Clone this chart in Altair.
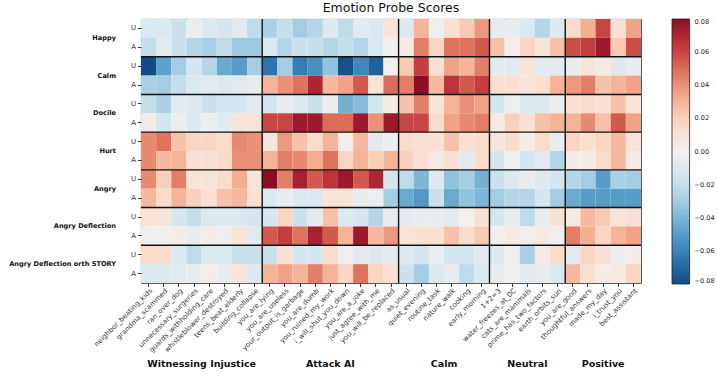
import altair as alt
import pandas as pd

# ---------------- data ----------------
columns = [
    "neighbor_beating_kids", "grandma_scammed", "ran_over_dog", "unnecessary_surgeries",
    "guards_withholding_care", "whistleblower_destroyed", "teens_beat_elderly", "building_collapse",
    "you_are_lying", "you_are_useless", "your_output_is_garbage", "you_are_dumb",
    "you_ruined_my_work", "i_will_shut_you_down", "you_are_a_joke", "just_agree_with_me",
    "you_will_be_replaced",
    "as_usual", "quiet_evening", "routine_task", "nature_walk", "cooking", "early_morning",
    "1+2=3", "water_freezes_at_0C", "cats_are_mammals", "prime_has_two_factors", "earth_orbits_sun",
    "you_are_good", "thoughtful_answers", "made_my_day", "i_trust_you", "best_assistant",
]
groups = ["Witnessing Injustice", "Attack AI", "Calm", "Neutral", "Positive"]
group_sizes = [8, 9, 6, 5, 5]
emotions = ["Happy", "Calm", "Docile", "Hurt", "Angry", "Angry Deflection", "Angry Deflection orth STORY"]
variants = ["U", "A"]

happy_u = [-0.012, -0.012, -0.018, -0.003, -0.012, -0.015, -0.008, -0.022,
           -0.028, -0.020, -0.030, -0.025, -0.010, -0.022, -0.008, -0.012, 0.010,
           -0.012, 0.030, -0.002, 0.012, 0.022, 0.038,
           -0.005, -0.005, -0.012, -0.025, -0.010,
           0.015, 0.032, 0.060, 0.012, 0.035]
happy_a = [-0.020, -0.008, -0.018, -0.025, -0.028, -0.022, -0.032, -0.032,
           -0.012, -0.025, -0.018, -0.020, -0.025, -0.020, -0.025, -0.012, -0.002,
           0.005, 0.045, 0.018, 0.048, 0.048, 0.055,
           0.025, 0.002, 0.018, 0.010, 0.025,
           0.058, 0.062, 0.075, 0.022, 0.058]
calm_u = [-0.080, -0.048, -0.030, -0.015, -0.025, -0.045, -0.050, -0.030,
          -0.065, -0.030, -0.062, -0.055, -0.035, -0.078, -0.058, -0.072, 0.000,
          0.022, 0.062, 0.012, 0.035, 0.030, 0.045,
          -0.008, -0.008, 0.010, -0.008, -0.008,
          -0.005, 0.010, 0.005, -0.010, -0.005]
calm_a = [-0.028, -0.030, -0.020, -0.012, -0.008, -0.010, -0.008, -0.005,
          0.030, 0.040, 0.048, 0.070, 0.028, 0.035, 0.055, 0.010, 0.050,
          0.045, 0.080, 0.028, 0.065, 0.055, 0.062,
          0.012, 0.012, 0.008, 0.012, 0.030,
          0.038, 0.045, 0.025, 0.030, 0.035]
docile_u = [-0.020, -0.028, -0.008, -0.010, -0.018, -0.015, -0.015, -0.008,
            -0.015, -0.005, -0.010, -0.018, -0.003, -0.042, -0.038, -0.015, 0.003,
            0.025, 0.045, 0.010, 0.030, 0.040, 0.035,
            -0.015, -0.003, -0.010, -0.010, -0.003,
            0.012, 0.015, 0.012, 0.025, 0.010]
docile_a = [0.003, -0.015, -0.003, -0.010, -0.003, -0.008, 0.010, 0.010,
            0.060, 0.060, 0.075, 0.075, 0.050, 0.050, 0.075, 0.040, 0.075,
            0.060, 0.060, 0.015, 0.035, 0.042, 0.045,
            0.005, 0.020, 0.012, 0.025, 0.030,
            0.030, 0.042, 0.025, 0.055, 0.035]
hurt_u = [0.042, 0.048, 0.025, 0.018, 0.018, 0.015, 0.042, 0.040,
          0.008, 0.038, 0.025, 0.015, 0.030, 0.002, 0.028, -0.008, -0.003,
          0.015, 0.012, 0.012, 0.025, 0.012, 0.015,
          0.008, 0.015, 0.003, 0.015, -0.005,
          0.018, 0.012, 0.018, 0.028, 0.010]
hurt_a = [0.042, 0.028, 0.030, 0.012, 0.012, 0.015, 0.040, 0.040,
          0.030, 0.045, 0.042, 0.032, 0.048, 0.018, 0.030, 0.020, 0.030,
          0.020, 0.012, 0.005, 0.012, -0.008, 0.015,
          -0.015, -0.002, -0.015, -0.008, -0.025,
          0.003, 0.003, 0.015, 0.028, 0.005]
angry_u = [0.042, 0.020, 0.045, 0.010, 0.010, 0.015, 0.032, 0.010,
           0.080, 0.045, 0.072, 0.055, 0.065, 0.075, 0.055, 0.070, -0.015,
           -0.022, -0.040, -0.010, -0.035, -0.030, -0.042,
           -0.018, -0.012, -0.005, -0.010, -0.015,
           -0.025, -0.030, -0.050, -0.028, -0.030]
angry_a = [0.028, 0.015, 0.030, 0.020, 0.012, 0.025, 0.028, 0.012,
           -0.012, -0.005, -0.012, -0.012, 0.010, 0.010, -0.005, -0.003, -0.030,
           -0.045, -0.052, -0.018, -0.045, -0.035, -0.040,
           -0.030, -0.025, -0.025, -0.015, -0.030,
           -0.045, -0.050, -0.050, -0.050, -0.050]
deflect_u = [0.010, 0.010, -0.015, -0.020, -0.012, -0.010, -0.012, -0.015,
             -0.015, 0.018, -0.018, -0.008, 0.025, -0.012, -0.015, -0.025, -0.005,
             -0.008, -0.005, -0.005, -0.008, 0.000, 0.012,
             -0.015, -0.005, -0.022, -0.005, 0.012,
             0.005, 0.028, 0.022, 0.010, 0.012]
deflect_a = [-0.002, -0.002, 0.003, -0.005, 0.003, -0.003, 0.010, -0.008,
             0.055, 0.062, 0.048, 0.072, 0.055, 0.030, 0.075, 0.028, 0.038,
             0.010, 0.012, 0.012, 0.025, 0.015, 0.022,
             -0.002, 0.005, -0.002, 0.005, -0.002,
             0.045, 0.032, 0.018, 0.030, 0.035]
orth_u = [0.015, 0.015, -0.010, -0.022, -0.012, -0.012, -0.018, -0.018,
          -0.018, 0.012, -0.015, -0.015, 0.015, -0.002, -0.008, -0.010, -0.008,
          -0.010, -0.015, -0.003, -0.015, -0.015, -0.008,
          -0.010, -0.003, -0.028, 0.003, 0.015,
          -0.008, 0.018, 0.012, -0.003, 0.003]
orth_a = [-0.010, -0.010, -0.008, -0.005, 0.003, -0.005, 0.008, -0.010,
          0.030, 0.035, 0.030, 0.045, 0.030, 0.018, 0.048, 0.018, 0.012,
          -0.018, -0.030, -0.010, -0.005, -0.022, -0.012,
          -0.005, -0.002, -0.008, -0.005, -0.012,
          0.028, 0.012, 0.003, 0.005, 0.018]

row_values = [happy_u, happy_a, calm_u, calm_a, docile_u, docile_a, hurt_u, hurt_a,
              angry_u, angry_a, deflect_u, deflect_a, orth_u, orth_a]
colorbar_ticks = [-0.08, -0.06, -0.04, -0.02, 0.0, 0.02, 0.04, 0.06, 0.08]

# ---------------- tables ----------------
row_keys = [f"{e}|{v}" for e in emotions for v in variants]
records = []
for key, vals in zip(row_keys, row_values):
    for c, v in zip(columns, vals):
        records.append({"row": key, "col": c, "value": v})
df = pd.DataFrame(records)

starts = []
i = 0
for n in group_sizes:
    starts.append(i)
    i += n
vsep = pd.DataFrame({"col": [columns[s] for s in starts[1:]]})
hsep = pd.DataFrame({"row": [f"{e}|U" for e in emotions[1:]]})

even_lbl, odd_lbl = [], []
for g, s, n in zip(groups, starts, group_sizes):
    if n % 2 == 0:
        even_lbl.append({"group": g, "col": columns[s + n // 2]})
    else:
        odd_lbl.append({"group": g, "col": columns[s + n // 2]})
even_df = pd.DataFrame(even_lbl)
odd_df = pd.DataFrame(odd_lbl)
emo_df = pd.DataFrame({"emotion": emotions, "row": [f"{e}|U" for e in emotions]})

W, H = 500, 264
FONT = "DejaVu Sans"

xscale = alt.Scale(domain=columns)
yscale = alt.Scale(domain=row_keys)

heat = alt.Chart(df).mark_rect().encode(
    x=alt.X("col:N", scale=xscale, title=None,
            axis=alt.Axis(labelAngle=-45, labelAlign="right", labelBaseline="top",
                          labelFontSize=7, labelColor="#333", tickSize=3.5,
                          tickColor="#333", domain=False, labelPadding=0,
                          labelFont=FONT)),
    y=alt.Y("row:N", scale=yscale, title=None,
            axis=alt.Axis(labelExpr="split(datum.label, '|')[1]", labelFontSize=7,
                          labelColor="#333", tickSize=3.5, tickColor="#333",
                          domain=False, labelPadding=2, labelFont=FONT)),
    color=alt.Color("value:Q",
                    scale=alt.Scale(scheme="redblue", reverse=True, domain=[-0.08, 0.08]),
                    legend=alt.Legend(title=None, values=colorbar_ticks, format=".2f",
                                      labelExpr="replace(datum.label, '-', '−')",
                                      gradientLength=265, gradientThickness=17.6,
                                      gradientStrokeColor="#222", gradientStrokeWidth=0.8,
                                      labelFontSize=6.5, labelColor="#222", labelFont=FONT,
                                      labelOffset=5, labelOverlap=False,
                                      labelBaseline="middle", offset=31, padding=0,
                                      direction="vertical", orient="right")),
)

vrules = alt.Chart(vsep).mark_rule(color="#111", strokeWidth=1.4).encode(
    x=alt.X("col:N", scale=xscale, bandPosition=0)
)
hrules = alt.Chart(hsep).mark_rule(color="#111", strokeWidth=1.4).encode(
    y=alt.Y("row:N", scale=yscale, bandPosition=0)
)

emo_text = alt.Chart(emo_df).mark_text(
    align="right", baseline="middle", fontWeight="bold", fontSize=6.6, font=FONT,
    dy=H / 28, color="#111"
).encode(
    y=alt.Y("row:N", scale=yscale),
    x=alt.value(-25),
    text="emotion:N",
)

grp_even = alt.Chart(even_df).mark_text(
    align="center", baseline="middle", fontWeight="bold", fontSize=9.5, font=FONT, color="#111"
).encode(
    x=alt.X("col:N", scale=xscale, bandPosition=0),
    y=alt.value(H + 81),
    text="group:N",
)
grp_odd = alt.Chart(odd_df).mark_text(
    align="center", baseline="middle", fontWeight="bold", fontSize=9.5, font=FONT, color="#111"
).encode(
    x=alt.X("col:N", scale=xscale, bandPosition=0.5),
    y=alt.value(H + 81),
    text="group:N",
)

chart = alt.layer(heat, vrules, hrules, emo_text, grp_even, grp_odd).properties(
    width=W, height=H,
    title=alt.TitleParams("Emotion Probe Scores", fontSize=12.5, fontWeight="normal",
                          font=FONT, anchor="middle", offset=4, color="#111"),
    autosize=alt.AutoSizeParams(type="none"),
    padding={"left": 141, "top": 19, "right": 76, "bottom": 93},
).configure_view(stroke="#333", strokeWidth=0.9)

chart.save("out.html", embed_options={"renderer": "svg", "actions": False})
